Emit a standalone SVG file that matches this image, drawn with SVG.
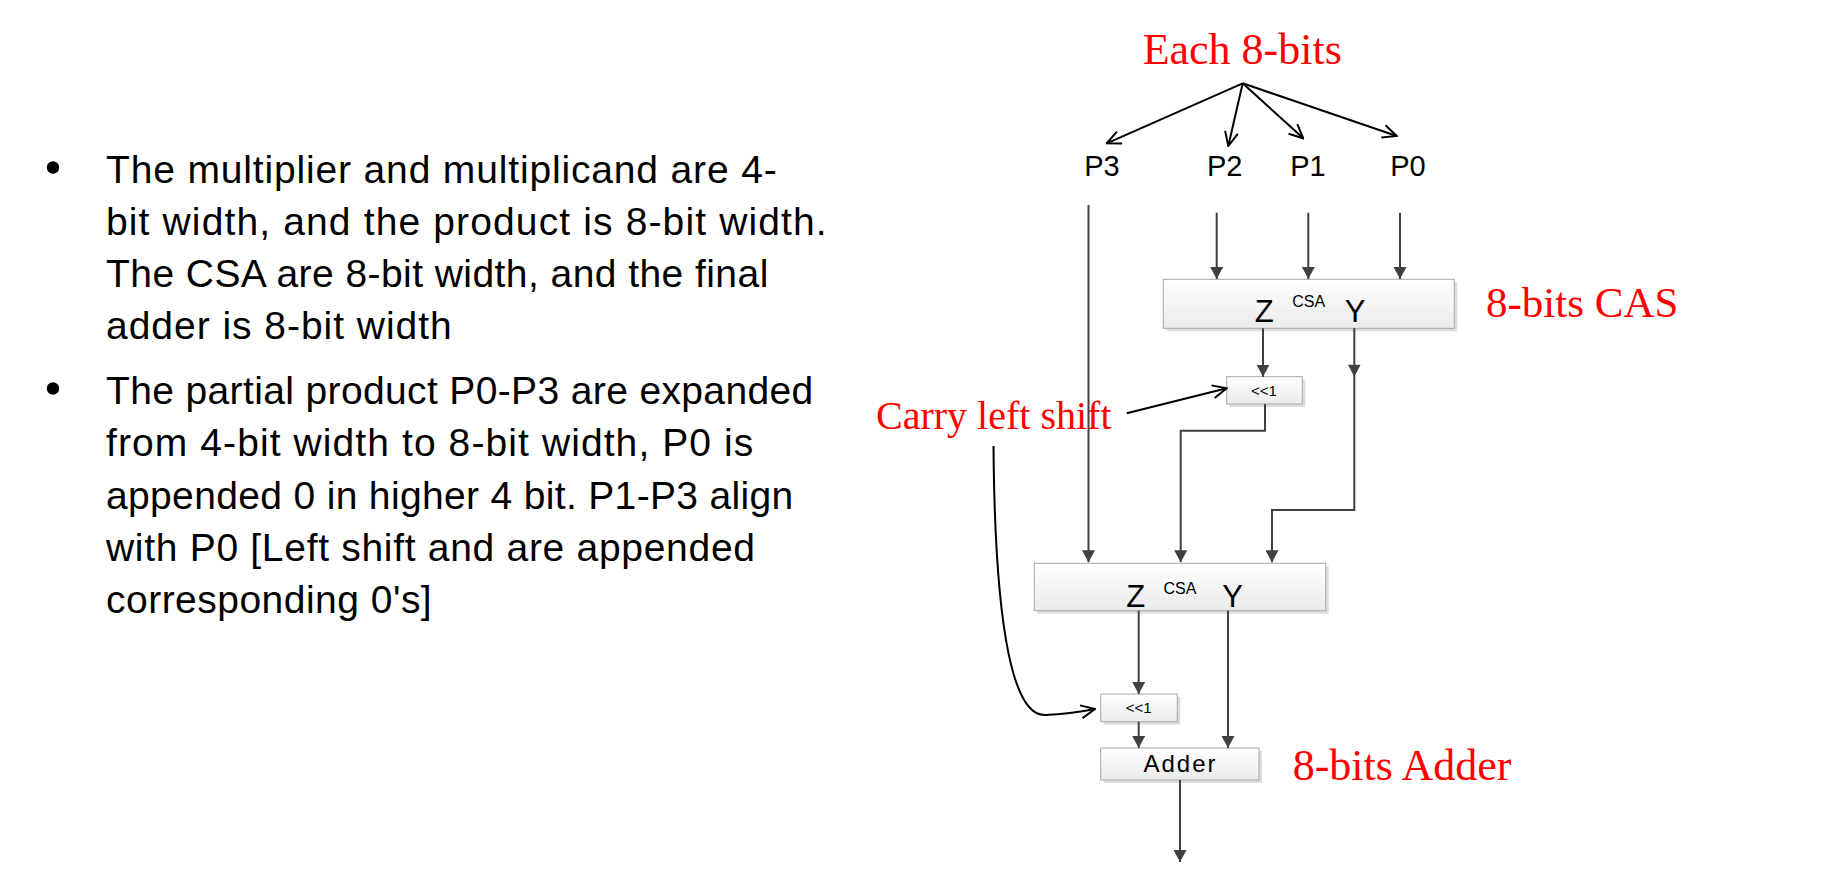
<svg xmlns="http://www.w3.org/2000/svg" width="1834" height="880" viewBox="0 0 1834 880">
<defs>
<linearGradient id="g" x1="0" y1="0" x2="0" y2="1">
<stop offset="0" stop-color="#ffffff"/>
<stop offset="1" stop-color="#eaeaea"/>
</linearGradient>
<marker id="fa" viewBox="0 0 12 13" refX="12" refY="6.5" markerWidth="12" markerHeight="13" markerUnits="userSpaceOnUse" orient="auto">
<path d="M0,0 L12,6.5 L0,13 z" fill="#404040"/>
</marker>
<marker id="oa" viewBox="0 0 16 16" refX="15" refY="8" markerWidth="16" markerHeight="16" markerUnits="userSpaceOnUse" orient="auto">
<path d="M1,1.5 L15,8 L1,14.5" fill="none" stroke="#000" stroke-width="2"/>
</marker>
</defs>
<style>
.t { font-family: "Liberation Sans", Arial, sans-serif; fill: #000; }
.red { font-family: "Liberation Serif", "Times New Roman", serif; fill: #ff0000; }
.box { fill: url(#g); stroke: #a8a8a8; stroke-width: 1; }
.sh { fill: #dddddd; }
.wire { stroke: #404040; stroke-width: 2; fill: none; }
.ann { stroke: #000; stroke-width: 2; fill: none; }
</style>
<rect width="1834" height="880" fill="#ffffff"/>

<g id="bullets">
<circle cx="53" cy="167.5" r="6.2" fill="#000"/>
<text class="t" font-size="39" x="106" y="182.5" textLength="670.7" lengthAdjust="spacing">The multiplier and multiplicand are 4-</text>
<text class="t" font-size="39" x="106" y="234.5" textLength="720.7" lengthAdjust="spacing">bit width, and the product is 8-bit width.</text>
<text class="t" font-size="39" x="106" y="286.5" textLength="662.3" lengthAdjust="spacing">The CSA are 8-bit width, and the final</text>
<text class="t" font-size="39" x="106" y="338.5" textLength="345.7" lengthAdjust="spacing">adder is 8-bit width</text>
<circle cx="53" cy="388.5" r="6.2" fill="#000"/>
<text class="t" font-size="39" x="106" y="403.5" textLength="707.3" lengthAdjust="spacing">The partial product P0-P3 are expanded</text>
<text class="t" font-size="39" x="106" y="456" textLength="647.3" lengthAdjust="spacing">from 4-bit width to 8-bit width, P0 is</text>
<text class="t" font-size="39" x="106" y="508.5" textLength="687.3" lengthAdjust="spacing">appended 0 in higher 4 bit. P1-P3 align</text>
<text class="t" font-size="39" x="106" y="561" textLength="649" lengthAdjust="spacing">with P0 [Left shift and are appended</text>
<text class="t" font-size="39" x="106" y="613" textLength="325.7" lengthAdjust="spacing">corresponding 0's]</text>
</g>

<g id="annotations">
<text class="red" font-size="44" x="1142.7" y="64.3">Each 8-bits</text>
<text class="red" font-size="43" x="1486" y="316.7">8-bits CAS</text>
<text class="red" font-size="40" x="876" y="429.3">Carry left shift</text>
<text class="red" font-size="44" x="1292.7" y="780">8-bits Adder</text>
</g>

<g id="labels-P">
<text class="t" font-size="29" x="1102" y="175.7" text-anchor="middle">P3</text>
<text class="t" font-size="29" x="1224.7" y="175.7" text-anchor="middle">P2</text>
<text class="t" font-size="29" x="1308" y="175.7" text-anchor="middle">P1</text>
<text class="t" font-size="29" x="1408" y="175.7" text-anchor="middle">P0</text>
</g>

<g id="csa1">
<rect class="sh" x="1166.3" y="282.3" width="291" height="49"/>
<rect class="box" x="1163.3" y="279.3" width="291" height="49"/>
<text class="t" font-size="31" x="1264.3" y="321.7" text-anchor="middle">Z</text>
<text class="t" font-size="16" x="1308.7" y="307.3" text-anchor="middle">CSA</text>
<text class="t" font-size="31" x="1355" y="321.7" text-anchor="middle">Y</text>
</g>

<g id="shift1">
<rect class="sh" x="1229.7" y="379.7" width="75.6" height="27.3"/>
<rect class="box" x="1226.7" y="376.7" width="75.6" height="27.3"/>
<text class="t" font-size="15" x="1264" y="395.5" text-anchor="middle">&lt;&lt;1</text>
</g>

<g id="csa2">
<rect class="sh" x="1037.3" y="566.3" width="291.4" height="47.4"/>
<rect class="box" x="1034.3" y="563.3" width="291.4" height="47.4"/>
<text class="t" font-size="31" x="1135.7" y="606.7" text-anchor="middle">Z</text>
<text class="t" font-size="16" x="1180" y="594.3" text-anchor="middle">CSA</text>
<text class="t" font-size="31" x="1232.7" y="606.7" text-anchor="middle">Y</text>
</g>

<g id="shift2">
<rect class="sh" x="1103.7" y="697" width="76.6" height="27.7"/>
<rect class="box" x="1100.7" y="694" width="76.6" height="27.7"/>
<text class="t" font-size="15" x="1138.7" y="712.5" text-anchor="middle">&lt;&lt;1</text>
</g>

<g id="adder">
<rect class="sh" x="1103.7" y="751" width="158.3" height="32"/>
<rect class="box" x="1100.7" y="748" width="158.3" height="32"/>
<text class="t" font-size="24" x="1179.5" y="771.7" text-anchor="middle" textLength="72" lengthAdjust="spacing">Adder</text>
</g>

<g id="connectors">
<line class="ann" x1="1242.7" y1="83.3" x2="1106.7" y2="143.3" marker-end="url(#oa)"/>
<line class="ann" x1="1242.7" y1="83.3" x2="1228.3" y2="146" marker-end="url(#oa)"/>
<line class="ann" x1="1242.7" y1="83.3" x2="1303.3" y2="138.3" marker-end="url(#oa)"/>
<line class="ann" x1="1242.7" y1="83.3" x2="1396.7" y2="136" marker-end="url(#oa)"/>
<line class="ann" x1="1126.7" y1="413.3" x2="1226.7" y2="388.3" marker-end="url(#oa)"/>
<path class="ann" d="M993.5,446 C995,640 1015,716 1045,715 Q1070,714 1095,709" marker-end="url(#oa)"/>

<path class="wire" d="M1088.5,205 V562.3" marker-end="url(#fa)"/>
<path class="wire" d="M1216.7,212.7 V279" marker-end="url(#fa)"/>
<path class="wire" d="M1308.3,212.7 V279" marker-end="url(#fa)"/>
<path class="wire" d="M1400,212.7 V279" marker-end="url(#fa)"/>
<path class="wire" d="M1263,328.3 V376.7" marker-end="url(#fa)"/>
<path class="wire" d="M1354.3,328.3 V510 H1272 V562.3" marker-end="url(#fa)"/>
<polygon points="1348,364.7 1360.6,364.7 1354.3,376.7" fill="#404040"/>
<path class="wire" d="M1265,404 V430.7 H1180.7 V562.3" marker-end="url(#fa)"/>
<path class="wire" d="M1138.7,610.7 V694" marker-end="url(#fa)"/>
<path class="wire" d="M1228,610.7 V748" marker-end="url(#fa)"/>
<path class="wire" d="M1138.7,721.7 V748" marker-end="url(#fa)"/>
<path class="wire" d="M1180,780 V862" marker-end="url(#fa)"/>
</g>
</svg>
